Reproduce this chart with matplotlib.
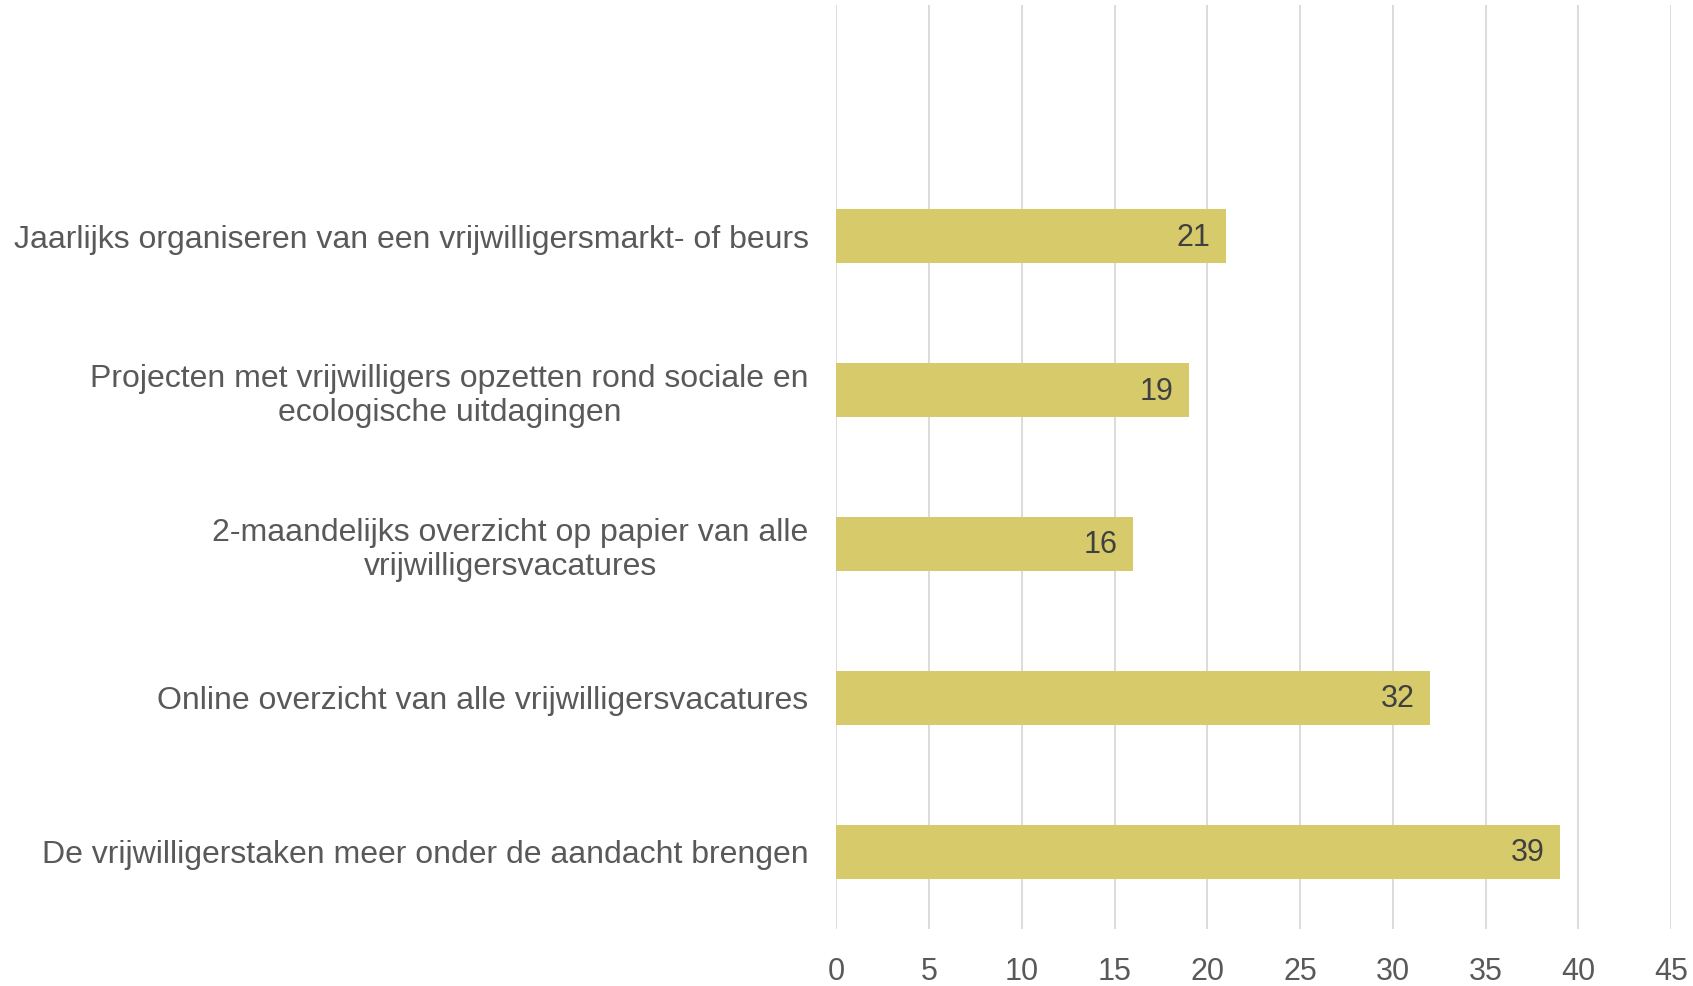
import matplotlib
matplotlib.use("Agg")
import matplotlib.pyplot as plt

plt.rcParams['font.family'] = ['Liberation Sans', 'DejaVu Sans']

# categories bottom -> top
labels = [
    "De vrijwilligerstaken meer onder de aandacht brengen",
    "Online overzicht van alle vrijwilligersvacatures",
    "2-maandelijks overzicht op papier van alle\nvrijwilligersvacatures",
    "Projecten met vrijwilligers opzetten rond sociale en\necologische uitdagingen",
    "Jaarlijks organiseren van een vrijwilligersmarkt- of beurs",
]
values = [39, 32, 16, 19, 21]
xticks = [0, 5, 10, 15, 20, 25, 30, 35, 40, 45]

bar_color = "#D6CA6B"
text_color = "#595959"

fig = plt.figure(figsize=(16.93, 9.86), dpi=100)
ax = fig.add_axes([0.494, 0.058, 0.493, 0.9365])

pos = list(range(len(values)))
bars = ax.barh(pos, values, height=0.35, color=bar_color, zorder=3)

for b, v in zip(bars, values):
    ax.annotate(str(v), xy=(b.get_width(), b.get_y() + b.get_height() / 2),
                xytext=(-11, -1), textcoords="offset points",
                ha="right", va="center", fontsize=22, color="#404040", zorder=4)

ax.set_xlim(0, 45)
ax.set_ylim(-0.5, 5.5)
ax.set_xticks(xticks)
ax.set_yticks(pos)
ax.set_yticklabels(labels, fontsize=23, color=text_color,
                   multialignment="center", linespacing=1.2)
ax.tick_params(axis="x", labelsize=22, labelcolor=text_color, length=0, pad=20)
ax.tick_params(axis="y", length=0, pad=20)

ax.grid(axis="x", color="#D9D9D9", linewidth=1.3, zorder=0)
for s in ax.spines.values():
    s.set_visible(False)

fig.savefig("out.png", dpi=100)
